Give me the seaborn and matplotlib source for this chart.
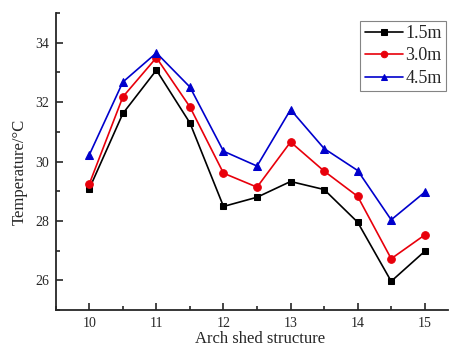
import pandas as pd
import seaborn as sns
import matplotlib.pyplot as plt
from matplotlib.ticker import MultipleLocator

# dados
x = [10, 10.5, 11, 11.5, 12, 12.5, 13, 13.5, 14, 14.5, 15]
t15 = [29.09, 31.62, 33.08, 31.30, 28.49, 28.80, 29.33, 29.06, 27.96, 25.97, 26.98]
t30 = [29.25, 32.18, 33.50, 31.84, 29.61, 29.14, 30.66, 29.68, 28.83, 26.73, 27.53]
t45 = [30.23, 32.68, 33.66, 32.51, 30.35, 29.85, 31.75, 30.44, 29.70, 28.04, 28.97]

sns.set_style("ticks")
plt.rcParams['font.family'] = ['Liberation Serif', 'DejaVu Serif']

fig = plt.figure(figsize=(4.5, 3.54), dpi=100)
ax = fig.add_axes([0.124, 0.124, 0.872, 0.839])

series = [("1.5m", t15, "black", "s", 5), ("3.0m", t30, "#e8000b", "o", 5.5), ("4.5m", t45, "#0000cc", "^", 5.5)]
for lab, vals, cor, mk, ms in series:
    sns.lineplot(x=x, y=vals, ax=ax, color=cor, marker=mk, markersize=ms,
                 markeredgecolor=cor, linewidth=1.2, label=lab)

ax.set_xlim(9.5, 15.35)
ax.set_ylim(25, 35)
ax.xaxis.set_major_locator(MultipleLocator(1))
ax.xaxis.set_minor_locator(MultipleLocator(0.5))
ax.yaxis.set_major_locator(MultipleLocator(2))
ax.yaxis.set_minor_locator(MultipleLocator(1))
ax.tick_params(which='both', direction='in', width=1.2, labelsize=10, pad=5)
ax.tick_params(which='major', length=5)
ax.tick_params(which='minor', length=3)
for s in ['top', 'right']:
    ax.spines[s].set_visible(False)
for s in ['left', 'bottom']:
    ax.spines[s].set_linewidth(1.3)

ax.set_xlabel('Arch shed structure', fontsize=12)
ax.set_ylabel('Temperature/°C', fontsize=12)
ax.xaxis.set_label_coords(0.52, -0.072)
ax.yaxis.set_label_coords(-0.072, 0.465)

leg = ax.legend(loc='upper right', bbox_to_anchor=(0.995, 0.975), fontsize=13,
                frameon=True, fancybox=False, edgecolor='#666666', handlelength=2.1,
                borderpad=0.25, labelspacing=0.3, handletextpad=0.15, borderaxespad=0,
                markerscale=0.85)
leg.get_frame().set_linewidth(0.8)

plt.savefig('out.png', dpi=100)
